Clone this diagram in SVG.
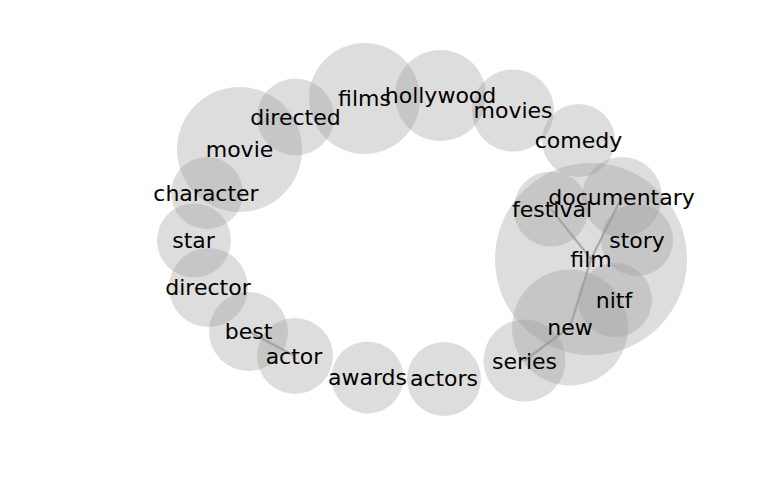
<svg xmlns="http://www.w3.org/2000/svg" width="768" height="500" viewBox="0 0 768 500">
<style>
.n circle{fill:#999;fill-opacity:0.33;stroke:none}
.lbl text{font-family:"DejaVu Sans",sans-serif;font-size:22px;fill:#000;text-anchor:middle}
#edges line{stroke:#777;stroke-opacity:0.55;stroke-width:2.2}
</style>
<rect width="768" height="500" fill="#fff"/>
<g id="edges">
<line x1="551" y1="209" x2="591" y2="259"/>
<line x1="622" y1="197" x2="591" y2="259"/>
<line x1="591" y1="259" x2="570" y2="327"/>
<line x1="570" y1="327" x2="524.5" y2="360.5"/>
<line x1="248.5" y1="331.5" x2="295" y2="356"/>
</g>
<g id="node-film" class="n"><circle cx="591" cy="259" r="96"/></g>
<g id="node-documentary" class="n"><circle cx="622" cy="197" r="40"/></g>
<g id="node-festival" class="n"><circle cx="551" cy="209" r="37.5"/></g>
<g id="node-story" class="n"><circle cx="637" cy="240" r="36"/></g>
<g id="node-nitf" class="n"><circle cx="615" cy="300" r="37"/></g>
<g id="node-new" class="n"><circle cx="570" cy="327.5" r="58"/></g>
<g id="node-series" class="n"><circle cx="524.5" cy="360.5" r="41"/></g>
<g id="node-comedy" class="n"><circle cx="578.5" cy="140.5" r="36.5"/></g>
<g id="node-movies" class="n"><circle cx="513" cy="110.5" r="41"/></g>
<g id="node-hollywood" class="n"><circle cx="440.5" cy="95.5" r="45.5"/></g>
<g id="node-films" class="n"><circle cx="364.5" cy="98.5" r="55.5"/></g>
<g id="node-directed" class="n"><circle cx="295.5" cy="117" r="38.5"/></g>
<g id="node-movie" class="n"><circle cx="239.5" cy="149.5" r="62.5"/></g>
<g id="node-character" class="n"><circle cx="207" cy="193" r="36"/></g>
<g id="node-star" class="n"><circle cx="194" cy="240.5" r="37"/></g>
<g id="node-director" class="n"><circle cx="208.5" cy="287.5" r="39.5"/></g>
<g id="node-best" class="n"><circle cx="248.5" cy="331.5" r="39.5"/></g>
<g id="node-actor" class="n"><circle cx="295" cy="356" r="38"/></g>
<g id="node-awards" class="n"><circle cx="367.5" cy="377.5" r="36"/></g>
<g id="node-actors" class="n"><circle cx="444" cy="379" r="37"/></g>
<g id="labels" class="lbl">
<text id="label-film" x="591" y="267">film</text>
<text id="label-documentary" x="621.5" y="205">documentary</text>
<text id="label-festival" x="552" y="217">festival</text>
<text id="label-story" x="637" y="248">story</text>
<text id="label-nitf" x="614" y="308">nitf</text>
<text id="label-new" x="570" y="335">new</text>
<text id="label-series" x="524.5" y="368.5">series</text>
<text id="label-comedy" x="578.5" y="148">comedy</text>
<text id="label-movies" x="513" y="118">movies</text>
<text id="label-hollywood" x="440.5" y="103">hollywood</text>
<text id="label-films" x="364.5" y="106">films</text>
<text id="label-directed" x="295.5" y="125">directed</text>
<text id="label-movie" x="239.5" y="157">movie</text>
<text id="label-character" x="206" y="200.5">character</text>
<text id="label-star" x="193.5" y="248">star</text>
<text id="label-director" x="208" y="295">director</text>
<text id="label-best" x="248.5" y="339">best</text>
<text id="label-actor" x="294" y="363.5">actor</text>
<text id="label-awards" x="367.5" y="385">awards</text>
<text id="label-actors" x="444" y="386">actors</text>
</g>
</svg>
